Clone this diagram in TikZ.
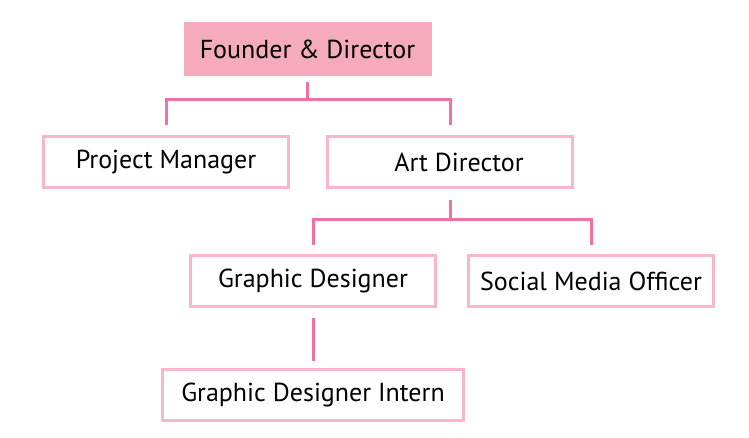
\documentclass[tikz,border=0pt]{standalone}
\usepackage{fontspec}
\setmainfont{PT Sans}
\usepackage{tikz}
\usetikzlibrary{positioning,calc}
\definecolor{roseFill}{HTML}{F5AABE}
\definecolor{roseEdge}{HTML}{F8B6C8}
\definecolor{roseLink}{HTML}{EF72A6}

\tikzset{
    rolebox/.style={draw=roseEdge, line width=3pt, fill=white, minimum width=245pt,
        minimum height=51pt, inner sep=0pt, font=\fontsize{26}{30}\selectfont},
    headbox/.style={rolebox, fill=roseFill, draw=roseFill},
    link/.style={draw=roseLink, line width=3pt}
}

\begin{document}
\begin{tikzpicture}[x=1pt, y=-1pt]

\useasboundingbox (0,0) rectangle (749,438);

% Top level
\node[headbox] (founder) at (307.5, 49) {Founder \& Director};

% Second level
\node[rolebox] (pm) at (166, 162) {Project Manager};
\node[rolebox] (ad) at (450, 162) {\hspace{18pt}Art Director};

% Third level
\node[rolebox] (gd) at (313, 281) {Graphic Designer};
\node[rolebox] (smo) at (591, 281) {Social Media Officer};

% Fourth level
\node[rolebox, minimum width=301pt] (intern) at (313, 395) {Graphic Designer Intern};

% Connectors
\coordinate (barA) at (307.5, 100);
\coordinate (barB) at (450, 220);
\draw[link] ([yshift=-6pt]founder.south) -- (barA);
\draw[link] ([yshift=10pt]pm.north) |- (barA) -| ([yshift=10pt]ad.north);
\draw[link] ([yshift=-11pt]ad.south) -- (barB);
\draw[link] ([yshift=9pt]gd.north) |- (barB) -| ([yshift=9pt]smo.north);
\draw[link] ([yshift=-10pt]gd.south) -- ([yshift=7pt]intern.north);

\end{tikzpicture}
\end{document}
